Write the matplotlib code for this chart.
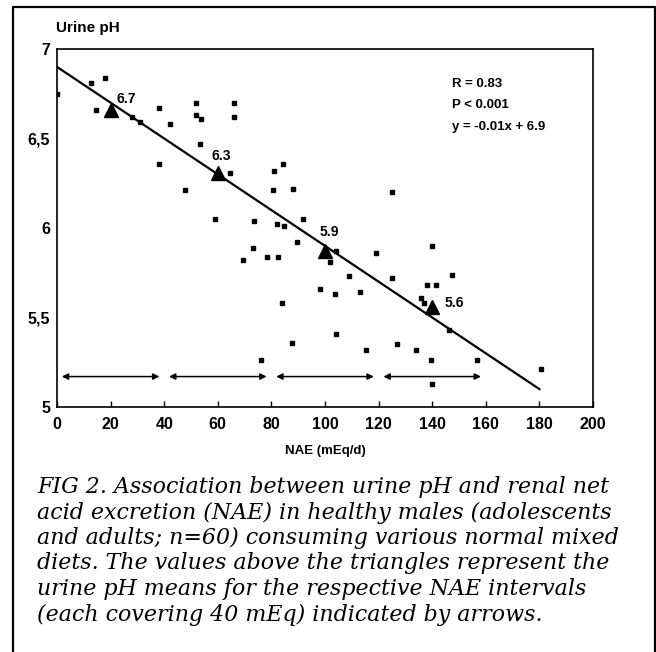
import matplotlib
matplotlib.use("Agg")
import matplotlib.pyplot as plt
from matplotlib.lines import Line2D

# ---------------- data ----------------
nae = [0, 12.8, 17.9, 14.7, 27.9, 30.9, 38.1, 42.3, 51.8, 51.8, 53.9, 66.0, 66.0,
       53.2, 38.1, 64.4, 47.8, 80.9, 84.3, 80.6, 88.1, 58.8, 73.4, 82.1, 84.6, 91.8,
       89.6, 73.1, 69.4, 78.4, 82.4, 98.3, 84.1, 87.5, 76.3, 101.7, 104.2, 108.8,
       103.6, 113.2, 118.9, 125.1, 140.0, 147.4, 138.1, 141.6, 135.7, 136.8, 146.2,
       104.2, 115.2, 126.9, 134.1, 139.4, 156.7, 180.7, 139.9, 125.1]
ph = [6.75, 6.81, 6.84, 6.66, 6.62, 6.59, 6.67, 6.58, 6.70, 6.63, 6.61, 6.70, 6.62,
      6.47, 6.36, 6.31, 6.21, 6.32, 6.36, 6.21, 6.22, 6.05, 6.04, 6.02, 6.01, 6.05,
      5.92, 5.89, 5.82, 5.84, 5.84, 5.66, 5.58, 5.36, 5.26, 5.81, 5.87, 5.73,
      5.63, 5.64, 5.86, 5.72, 5.90, 5.74, 5.68, 5.68, 5.61, 5.58, 5.43,
      5.41, 5.32, 5.35, 5.32, 5.26, 5.26, 5.21, 5.13, 6.20]

mean_x = [20, 60, 100, 140]
mean_y = [6.66, 6.31, 5.87, 5.56]
mean_labels = ["6.7", "6.3", "5.9", "5.6"]
label_x = [25.9, 61.3, 101.5, 148.4]
label_y = [6.72, 6.40, 5.98, 5.58]

interval_edges = [0, 40, 80, 120, 160]
arrow_y = 5.17

slope = -0.01
intercept = 6.9
fit_x = [0, 180]

x_ticks = [0, 20, 40, 60, 80, 100, 120, 140, 160, 180, 200]
y_ticks = [5, 5.5, 6, 6.5, 7]
y_ticklabels = ["5", "5,5", "6", "6,5", "7"]

stats_lines = ["R = 0.83", "P < 0.001", "y = -0.01x + 6.9"]

caption_lines = [
    "FIG 2. Association between urine pH and renal net",
    "acid excretion (NAE) in healthy males (adolescents",
    "and adults; n=60) consuming various normal mixed",
    "diets. The values above the triangles represent the",
    "urine pH means for the respective NAE intervals",
    "(each covering 40 mEq) indicated by arrows.",
]

# ---------------- figure ----------------
W, H = 656, 652
fig = plt.figure(figsize=(W / 100, H / 100), dpi=100)
fig.patch.set_facecolor("white")

def fx(px):
    return px / W

def fy(py):
    return 1 - py / H

ax = fig.add_axes([fx(57), fy(407), fx(593) - fx(57), fy(49) - fy(407)])
ax.set_xlim(0, 200)
ax.set_ylim(5, 7)

sans = ["Liberation Sans", "DejaVu Sans"]

for s in ax.spines.values():
    s.set_linewidth(1.2)
    s.set_color("black")

ax.set_xticks(x_ticks)
ax.set_xticklabels([str(t) for t in x_ticks], fontfamily=sans, fontweight="bold", fontsize=11.5)
ax.set_yticks(y_ticks)
ax.set_yticklabels(y_ticklabels, fontfamily=sans, fontweight="bold", fontsize=11.5)
ax.tick_params(axis="x", direction="in", length=4.5, width=1.0, pad=7)
ax.tick_params(axis="y", which="major", direction="in", length=0, pad=5)
ax.set_yticks([5.5, 6.5], minor=True)
ax.tick_params(axis="y", which="minor", direction="in", length=8.5, width=1.0)
ax.tick_params(axis="x", which="minor", length=0)

# scatter
ax.plot(nae, ph, linestyle="none", marker="s", markersize=3.3, color="black", zorder=3)

# regression line
fit_y = [slope * v + intercept for v in fit_x]
ax.plot(fit_x, fit_y, color="black", linewidth=1.6, zorder=2)

# means
ax.plot(mean_x, mean_y, linestyle="none", marker="^", markersize=10, color="black", zorder=4)
for lx, ly, lab in zip(label_x, label_y, mean_labels):
    ax.text(lx, ly, lab, ha="center", va="center", fontfamily=sans,
            fontweight="bold", fontsize=10)

# interval arrows
gap = 1.8
for a, b in zip(interval_edges[:-1], interval_edges[1:]):
    ax.annotate("", xy=(b - gap, arrow_y), xytext=(a + gap, arrow_y),
                arrowprops=dict(arrowstyle="<|-|>", color="black", lw=1.1,
                                mutation_scale=9, shrinkA=0, shrinkB=0))

# stats text
for i, t in enumerate(stats_lines):
    fig.text(fx(452), fy(84 + 21.5 * i), t, ha="left", va="center",
             fontfamily=sans, fontweight="bold", fontsize=9.5)

# axis titles
fig.text(fx(56), fy(28), "Urine pH", ha="left", va="center",
         fontfamily=sans, fontweight="bold", fontsize=11)
fig.text(fx(325), fy(451), "NAE (mEq/d)", ha="center", va="center",
         fontfamily=sans, fontweight="bold", fontsize=9.5)

# caption (sized so that first line spans ~572 px)
target_w = 572
fs = 16
probe = fig.text(0, 0, caption_lines[0], fontfamily="DejaVu Serif", style="italic", fontsize=fs)
fig.canvas.draw()
w = probe.get_window_extent().width
probe.remove()
fs = fs * target_w / w
for i, line in enumerate(caption_lines):
    fig.text(fx(37), fy(487 + 25.5 * i), line, ha="left", va="center",
             fontfamily="DejaVu Serif", style="italic", fontsize=fs)

# outer frame (left, top, right; open at bottom)
frame = Line2D([fx(13), fx(13), fx(654.5), fx(654.5)],
               [fy(660), fy(7), fy(7), fy(660)],
               transform=fig.transFigure, color="black", linewidth=1.6,
               clip_on=False)
fig.add_artist(frame)

fig.savefig("out.png", dpi=100, facecolor="white")
